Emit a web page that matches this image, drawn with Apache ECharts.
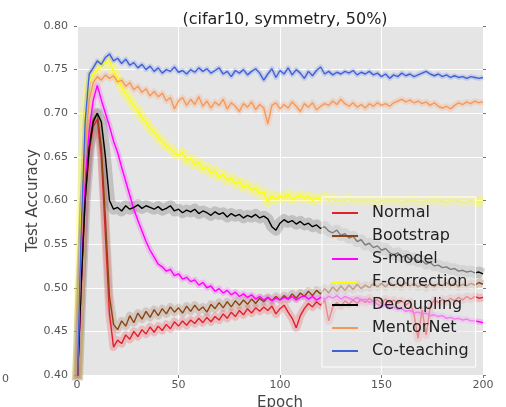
<!DOCTYPE html>
<html>
<head>
<meta charset="utf-8">
<script src="https://cdn.jsdelivr.net/npm/echarts@6/dist/echarts.min.js"></script>
<style>
html,body{margin:0;padding:0;background:#fff;}
#chart{width:506px;height:407px;}
</style>
</head>
<body>
<div id="chart"></div>
<script>
const titleText = '(cifar10, symmetry, 50%)';
const seriesNames = ['Normal','Bootstrap','S-model','F-correction','Decoupling','MentorNet','Co-teaching'];
const xTicks = [0,50,100,150,200];
const yTicks = [0.40,0.45,0.50,0.55,0.60,0.65,0.70,0.75,0.80];

const epochs = [0,2,4,6,8,10,12,14,16,18,
20,22,24,26,28,30,32,34,36,38,
40,42,44,46,48,50,52,54,56,58,
60,62,64,66,68,70,72,74,76,78,
80,82,84,86,88,90,92,94,96,98,
100,102,104,106,108,110,112,114,116,118,
120,122,124,126,128,130,132,134,136,138,
140,142,144,146,148,150,152,154,156,158,
160,162,164,166,168,170,172,174,176,178,
180,182,184,186,188,190,192,194,196,198,
200];

const normal = [0.38,0.50,0.60,0.655,0.685,0.693,0.650,0.560,0.470,0.432,
0.440,0.436,0.446,0.441,0.450,0.444,0.452,0.447,0.455,0.449,
0.456,0.451,0.458,0.453,0.461,0.456,0.462,0.457,0.463,0.459,
0.465,0.460,0.466,0.461,0.467,0.463,0.470,0.465,0.472,0.467,
0.474,0.469,0.476,0.471,0.477,0.473,0.478,0.474,0.479,0.470,
0.476,0.480,0.472,0.465,0.454,0.468,0.476,0.482,0.478,0.484,
0.480,0.486,0.462,0.478,0.483,0.479,0.485,0.481,0.486,0.482,
0.487,0.483,0.488,0.484,0.486,0.482,0.487,0.483,0.486,0.482,
0.485,0.480,0.484,0.470,0.442,0.475,0.446,0.478,0.486,0.483,
0.487,0.484,0.488,0.485,0.489,0.486,0.490,0.487,0.490,0.488,
0.489];

const bootstrap = [0.38,0.50,0.61,0.665,0.693,0.700,0.660,0.580,0.490,0.458,
0.452,0.462,0.456,0.468,0.460,0.471,0.464,0.473,0.466,0.475,
0.468,0.476,0.470,0.478,0.472,0.477,0.471,0.479,0.473,0.480,
0.474,0.478,0.472,0.481,0.476,0.483,0.477,0.484,0.478,0.485,
0.480,0.486,0.481,0.487,0.482,0.488,0.484,0.489,0.485,0.490,
0.486,0.491,0.487,0.493,0.488,0.494,0.490,0.496,0.491,0.497,
0.493,0.499,0.494,0.501,0.496,0.502,0.497,0.503,0.498,0.504,
0.499,0.503,0.500,0.505,0.501,0.505,0.501,0.506,0.502,0.505,
0.501,0.506,0.502,0.505,0.501,0.504,0.500,0.505,0.501,0.505,
0.502,0.506,0.502,0.505,0.501,0.504,0.502,0.505,0.503,0.506,
0.504];

const sModel = [0.38,0.50,0.62,0.68,0.715,0.732,0.715,0.700,0.685,0.668,
0.655,0.638,0.622,0.606,0.590,0.577,0.565,0.553,0.543,0.535,
0.527,0.524,0.519,0.521,0.514,0.516,0.510,0.512,0.507,0.509,
0.503,0.506,0.500,0.502,0.496,0.499,0.494,0.497,0.492,0.495,
0.490,0.493,0.489,0.492,0.487,0.490,0.486,0.489,0.485,0.488,
0.486,0.489,0.487,0.490,0.486,0.489,0.491,0.487,0.490,0.486,
0.489,0.487,0.490,0.488,0.491,0.487,0.490,0.488,0.486,0.489,
0.485,0.487,0.483,0.485,0.481,0.479,0.481,0.477,0.478,0.475,
0.476,0.473,0.474,0.471,0.472,0.470,0.471,0.468,0.469,0.467,
0.468,0.465,0.466,0.464,0.465,0.463,0.464,0.462,0.462,0.461,
0.460];

const fCorrection = [0.38,0.58,0.70,0.735,0.745,0.750,0.756,0.758,0.760,0.748,
0.740,0.730,0.722,0.716,0.708,0.703,0.695,0.690,0.682,0.678,
0.672,0.668,0.662,0.660,0.654,0.652,0.655,0.646,0.648,0.641,
0.644,0.636,0.638,0.632,0.634,0.627,0.630,0.623,0.626,0.619,
0.622,0.615,0.618,0.612,0.614,0.608,0.610,0.598,0.606,0.601,
0.605,0.603,0.607,0.601,0.604,0.606,0.602,0.605,0.600,0.603,
0.601,0.604,0.600,0.602,0.599,0.601,0.600,0.602,0.599,0.601,
0.600,0.599,0.601,0.600,0.598,0.600,0.599,0.601,0.599,0.600,
0.598,0.600,0.599,0.601,0.599,0.598,0.600,0.599,0.601,0.599,
0.600,0.598,0.600,0.599,0.600,0.598,0.599,0.600,0.598,0.599,
0.599];

const decoupling = [0.38,0.50,0.60,0.66,0.69,0.700,0.690,0.650,0.600,0.590,
0.592,0.588,0.594,0.590,0.592,0.595,0.591,0.594,0.592,0.590,
0.593,0.589,0.591,0.594,0.588,0.590,0.586,0.589,0.587,0.590,
0.585,0.588,0.586,0.583,0.587,0.584,0.586,0.581,0.585,0.582,
0.584,0.580,0.583,0.581,0.584,0.580,0.582,0.579,0.570,0.566,
0.574,0.578,0.575,0.577,0.573,0.576,0.572,0.574,0.570,0.572,
0.568,0.570,0.565,0.563,0.566,0.560,0.562,0.557,0.559,0.553,
0.555,0.549,0.551,0.546,0.548,0.543,0.545,0.540,0.538,0.540,
0.535,0.537,0.532,0.534,0.530,0.531,0.527,0.529,0.525,0.526,
0.523,0.524,0.521,0.522,0.519,0.520,0.518,0.519,0.517,0.518,
0.516];

const mentorNet = [0.38,0.55,0.66,0.715,0.735,0.742,0.738,0.744,0.740,0.743,
0.736,0.738,0.731,0.735,0.727,0.731,0.724,0.728,0.720,0.725,
0.719,0.723,0.714,0.718,0.705,0.714,0.718,0.709,0.716,0.710,
0.719,0.708,0.714,0.706,0.713,0.709,0.716,0.705,0.712,0.708,
0.702,0.711,0.707,0.713,0.704,0.710,0.706,0.688,0.709,0.712,
0.705,0.710,0.706,0.713,0.708,0.702,0.711,0.707,0.712,0.704,
0.708,0.711,0.709,0.714,0.710,0.716,0.711,0.708,0.712,0.707,
0.710,0.706,0.711,0.708,0.712,0.709,0.711,0.708,0.712,0.714,
0.716,0.713,0.715,0.712,0.714,0.711,0.713,0.709,0.712,0.708,
0.706,0.708,0.705,0.709,0.712,0.710,0.713,0.711,0.714,0.712,
0.713];

const coTeaching = [0.38,0.56,0.69,0.745,0.752,0.760,0.756,0.764,0.768,0.760,
0.763,0.757,0.762,0.755,0.758,0.752,0.756,0.750,0.754,0.748,
0.752,0.746,0.750,0.748,0.753,0.747,0.749,0.745,0.750,0.747,
0.752,0.748,0.751,0.746,0.749,0.752,0.745,0.748,0.742,0.749,
0.746,0.750,0.744,0.748,0.751,0.746,0.738,0.745,0.751,0.741,
0.749,0.745,0.752,0.744,0.750,0.746,0.740,0.748,0.743,0.749,
0.753,0.745,0.748,0.744,0.747,0.745,0.748,0.746,0.749,0.744,
0.747,0.745,0.748,0.744,0.746,0.742,0.745,0.740,0.744,0.742,
0.746,0.743,0.745,0.742,0.744,0.746,0.748,0.745,0.743,0.745,
0.742,0.744,0.741,0.743,0.741,0.742,0.740,0.742,0.741,0.740,
0.741];

const allValues = [normal, bootstrap, sModel, fCorrection, decoupling, mentorNet, coTeaching];
const lineColors = ['#e0202a','#8b4513','#ff00ff','#ffff00','#000000','#f5995a','#4060d6'];
const bandColors = ['rgba(240,80,90,0.28)','rgba(150,100,70,0.22)','rgba(255,80,255,0.30)','rgba(255,255,60,0.40)','rgba(100,100,100,0.28)','rgba(250,170,120,0.28)','rgba(100,130,240,0.25)'];
const bandWidths = [8,8,6,10,11,6,5];

const fontFam = '"DejaVu Sans", sans-serif';
const series = [];
allValues.forEach((vals, k) => {
  series.push({
    name: seriesNames[k] + ' band',
    type: 'line',
    data: epochs.map((e, i) => [e, vals[i]]),
    showSymbol: false,
    symbol: 'none',
    lineStyle: { color: bandColors[k], width: bandWidths[k], join: 'round' },
    silent: true,
    z: 2
  });
});
allValues.forEach((vals, k) => {
  series.push({
    name: seriesNames[k],
    type: 'line',
    data: epochs.map((e, i) => [e, vals[i]]),
    showSymbol: false,
    symbol: 'none',
    itemStyle: { color: lineColors[k] },
    lineStyle: { color: lineColors[k], width: 1.4 },
    z: 3
  });
});

const chart = echarts.init(document.getElementById('chart'), null, { renderer: 'canvas' });
chart.setOption({
  animation: false,
  backgroundColor: '#ffffff',
  textStyle: { fontFamily: fontFam },
  title: {
    text: titleText,
    left: 280, top: 7,
    textAlign: 'center',
    textStyle: { fontFamily: fontFam, fontSize: 16, fontWeight: 'normal', color: '#222' }
  },
  grid: {
    left: 77, top: 26, right: 23, bottom: 32,
    outerBoundsMode: 'none',
    containLabel: false,
    show: true, backgroundColor: '#e5e5e5', borderWidth: 0
  },
  legend: {
    data: seriesNames,
    orient: 'vertical',
    left: 322, top: 197,
    icon: 'rect',
    itemWidth: 26, itemHeight: 2,
    itemGap: 7,
    padding: [8, 7, 8, 10],
    backgroundColor: 'rgba(229,229,229,0.55)',
    borderColor: '#ffffff', borderWidth: 1,
    textStyle: { fontFamily: fontFam, fontSize: 16, color: '#222', padding: [0, 0, 0, 9] }
  },
  xAxis: {
    type: 'value',
    min: 0, max: 200, interval: 50,
    name: 'Epoch', nameLocation: 'middle', nameGap: 18,
    nameTextStyle: { fontFamily: fontFam, fontSize: 15, color: '#444' },
    axisLine: { show: false },
    axisTick: { show: true, length: 3, lineStyle: { color: '#777' } },
    axisLabel: { fontFamily: fontFam, fontSize: 11, color: '#555', margin: 5,
      formatter: v => xTicks.includes(v) ? String(v) : '' },
    splitLine: { show: true, lineStyle: { color: '#ffffff', width: 1 } }
  },
  yAxis: [{
    type: 'value',
    min: 0.40, max: 0.80, interval: 0.05,
    name: 'Test Accuracy', nameLocation: 'middle', nameGap: 36,
    nameMoveOverlap: false,
    nameTextStyle: { fontFamily: fontFam, fontSize: 15, color: '#444' },
    axisLine: { show: false },
    axisTick: { show: true, length: 3, lineStyle: { color: '#777' } },
    axisLabel: { fontFamily: fontFam, fontSize: 11, color: '#555', margin: 9,
      formatter: v => { const t = yTicks.find(y => Math.abs(y - v) < 1e-6); return t !== undefined ? t.toFixed(2) : ''; } },
    splitLine: { show: true, lineStyle: { color: '#ffffff', width: 1 } }
  }, {
    type: 'value', position: 'right',
    min: 0.40, max: 0.80, interval: 0.05,
    axisLine: { show: false },
    axisTick: { show: true, length: 3, lineStyle: { color: '#777' } },
    axisLabel: { show: false },
    splitLine: { show: false }
  }],
  graphic: [{
    type: 'text', left: 2, top: 374,
    style: { text: '0', fontFamily: fontFam, fontSize: 11, fill: '#555' }
  }],
  series: series
});
</script>
</body>
</html>
